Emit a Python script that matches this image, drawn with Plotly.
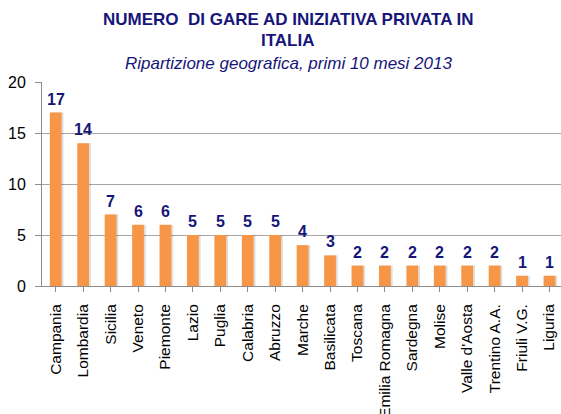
import plotly.graph_objects as go

regions = ["Campania", "Lombardia", "Sicilia", "Veneto", "Piemonte", "Lazio", "Puglia",
           "Calabria", "Abruzzo", "Marche", "Basilicata", "Toscana", "Emilia Romagna",
           "Sardegna", "Molise", "Valle d'Aosta", "Trentino A.A.", "Friuli V.G.", "Liguria"]
gare = [17, 14, 7, 6, 6, 5, 5, 5, 5, 4, 3, 2, 2, 2, 2, 2, 2, 1, 1]
y_ticks = [0, 5, 10, 15, 20]

title_line1 = "NUMERO  DI GARE AD INIZIATIVA PRIVATA IN"
title_line2 = "ITALIA"
subtitle = "Ripartizione geografica, primi 10 mesi 2013"

FONT = "Liberation Sans, Arial, sans-serif"
NAVY = "#16167A"
ORANGE = "#F79646"

idx = list(range(len(regions)))

fig = go.Figure()
# soft shadow
fig.add_trace(go.Bar(x=idx, y=gare, width=0.43, offset=-0.215 + 0.07,
                     marker=dict(color="rgba(0,0,0,0.13)", line=dict(width=0)),
                     hoverinfo="skip", showlegend=False))
fig.add_trace(go.Bar(x=idx, y=gare, width=0.43, offset=-0.215,
                     marker=dict(color=ORANGE, line=dict(width=0)),
                     showlegend=False))

for i, v in zip(idx, gare):
    fig.add_annotation(x=i, y=v, text=f"<b>{v}</b>", showarrow=False,
                       yanchor="bottom", xanchor="center", yshift=3,
                       font=dict(family=FONT, size=16, color=NAVY))

L, T, B = 42, 82, 128
W, H = 561, 414
pw = W - L
ph = H - T - B

def px_to_paper_x(px):
    return (px - L) / pw

def px_to_paper_y(py):
    return (H - B - py) / ph

cx = px_to_paper_x(288)
fig.add_annotation(xref="paper", yref="paper", x=cx, y=px_to_paper_y(19.5),
                   text=f"<b>{title_line1}</b>", showarrow=False,
                   xanchor="center", yanchor="middle",
                   font=dict(family=FONT, size=17, color=NAVY))
fig.add_annotation(xref="paper", yref="paper", x=cx, y=px_to_paper_y(40.5),
                   text=f"<b>{title_line2}</b>", showarrow=False,
                   xanchor="center", yanchor="middle",
                   font=dict(family=FONT, size=17, color=NAVY))
fig.add_annotation(xref="paper", yref="paper", x=cx, y=px_to_paper_y(63),
                   text=f"<i>{subtitle}</i>", showarrow=False,
                   xanchor="center", yanchor="middle",
                   font=dict(family=FONT, size=17, color=NAVY))

fig.update_layout(
    width=W, height=H,
    margin=dict(l=L, r=0, t=T, b=B, pad=0, autoexpand=False),
    paper_bgcolor="white", plot_bgcolor="white",
    barmode="overlay",
    font=dict(family=FONT, color="#000000"),
    xaxis=dict(
        tickmode="array", tickvals=idx, ticktext=regions,
        range=[-0.5, -0.5 + pw / 27.43],
        tickangle=-90, tickson="boundaries",
        ticks="outside", ticklen=5, tickcolor="#8C8C8C",
        showline=True, linecolor="#8C8C8C", linewidth=1,
        showgrid=False, zeroline=False, automargin=False,
        tickfont=dict(family=FONT, size=15.5, color="#000000"),
        ticklabelstandoff=6,
    ),
    yaxis=dict(
        range=[0, 20], tickmode="array", tickvals=y_ticks,
        ticks="outside", ticklen=6, tickcolor="#8C8C8C",
        showline=True, linecolor="#8C8C8C", linewidth=1,
        showgrid=True, gridcolor="#A6A6A6", gridwidth=1,
        zeroline=False, automargin=False,
        tickfont=dict(family=FONT, size=16, color="#000000"),
        ticklabelstandoff=6,
    ),
)

fig.write_html("out.html", config={"displayModeBar": False},
               post_script="document.body.style.margin='0';document.body.style.overflow='hidden';")
